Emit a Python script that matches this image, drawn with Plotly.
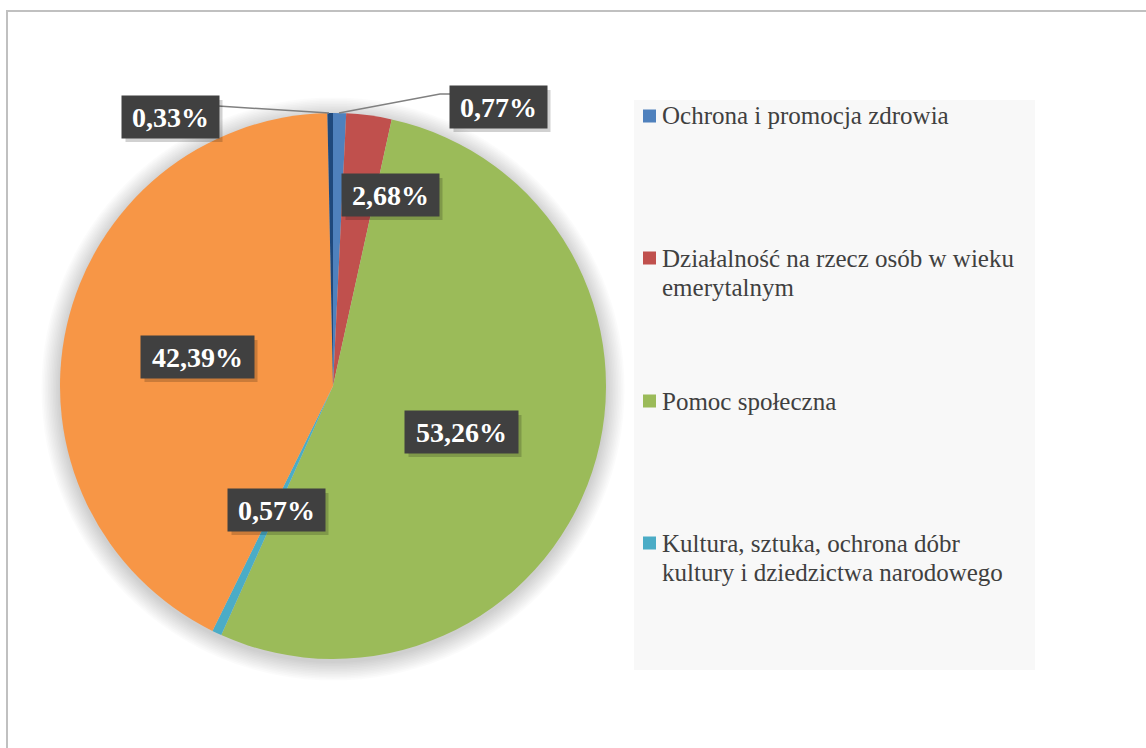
import plotly.graph_objects as go

# ---- data ----
categories = [
    "Ochrona i promocja zdrowia",
    "Działalność na rzecz osób w wieku emerytalnym",
    "Pomoc społeczna",
    "Kultura, sztuka, ochrona dóbr kultury i dziedzictwa narodowego",
    "Pozostała kategoria 5",
    "Pozostała kategoria 6",
]
values = [0.77, 2.68, 53.26, 0.57, 42.39, 0.33]
colors = ["#4F81BD", "#C0504D", "#9BBB59", "#4BACC6", "#F79646", "#1F497D"]

# legend shows only the first four entries (as in the source), with wrapped lines
legend_lines = [
    ["Ochrona i promocja zdrowia"],
    ["Działalność na rzecz osób w wieku", "emerytalnym"],
    ["Pomoc społeczna"],
    ["Kultura, sztuka, ochrona dóbr", "kultury i dziedzictwa narodowego"],
]

W, H = 1146, 748


def px(x):
    return x / W


def py(y):
    return 1 - y / H


fig = go.Figure()
fig.add_trace(go.Pie(
    labels=categories,
    values=values,
    marker=dict(colors=colors, line=dict(width=0)),
    sort=False,
    direction="clockwise",
    rotation=0,
    textinfo="none",
    showlegend=False,
    hoverinfo="label+percent",
    domain=dict(x=[px(60), px(606)], y=[py(659), py(113)]),
))

shapes = []
# chart outer border
shapes.append(dict(type="rect", xref="paper", yref="paper",
                   x0=px(7), y0=py(11), x1=px(1160), y1=py(760),
                   line=dict(color="#C0C0C0", width=2), fillcolor="rgba(0,0,0,0)", layer="below"))
# legend background
shapes.append(dict(type="rect", xref="paper", yref="paper",
                   x0=px(634), y0=py(100), x1=px(1035), y1=py(670),
                   line=dict(width=0), fillcolor="#F8F8F8", layer="below"))
# soft pie shadow
cx, cy, r = 333, 389, 273
for i in range(12):
    rr = r + 1 + i * 1.6
    shapes.append(dict(type="circle", xref="paper", yref="paper",
                       x0=px(cx - rr), x1=px(cx + rr), y0=py(cy + rr), y1=py(cy - rr),
                       line=dict(width=0), fillcolor="rgba(0,0,0,0.016)", layer="below"))
# leader lines
shapes.append(dict(type="path", xref="paper", yref="paper",
                   path=f"M {px(218)},{py(106)} L {px(329)},{py(113)}",
                   line=dict(color="#808080", width=1.5)))
shapes.append(dict(type="path", xref="paper", yref="paper",
                   path=f"M {px(339)},{py(113)} L {px(440)},{py(94)} L {px(450)},{py(94)}",
                   line=dict(color="#808080", width=1.5)))

annotations = []
# legend markers + text
legend_y = [116, 258, 401, 543]
line_gap = 29
for i, lines in enumerate(legend_lines):
    y0 = legend_y[i]
    shapes.append(dict(type="rect", xref="paper", yref="paper",
                       x0=px(643), x1=px(656), y0=py(y0 + 6.5), y1=py(y0 - 6.5),
                       line=dict(width=0), fillcolor=colors[i]))
    for j, t in enumerate(lines):
        annotations.append(dict(
            xref="paper", yref="paper", x=px(660), y=py(y0 + j * line_gap),
            xanchor="left", yanchor="middle", text=t, showarrow=False,
            font=dict(family="Liberation Serif", size=25, color="#404040"),
        ))

# data labels
label_pos = [(498, 107), (390, 195), (461, 432), (276, 510), (197, 357), (170, 117)]
for i, v in enumerate(values):
    txt = f"{v:.2f}".replace(".", ",") + "%"
    x, y = label_pos[i]
    wdt = 89 if len(txt) == 5 else 105
    bw, bh = wdt + 8, 42
    # shadow
    shapes.append(dict(type="rect", xref="paper", yref="paper",
                       x0=px(x - bw / 2 + 4), x1=px(x + bw / 2 + 4),
                       y0=py(y + bh / 2 + 4), y1=py(y - bh / 2 + 4),
                       line=dict(width=0), fillcolor="rgba(0,0,0,0.18)"))
    annotations.append(dict(
        xref="paper", yref="paper", x=px(x), y=py(y),
        xanchor="center", yanchor="middle", text=f"<b>{txt}</b>", showarrow=False,
        width=wdt, height=34, borderpad=4, bgcolor="#404040",
        font=dict(family="Liberation Serif", size=28, color="#FFFFFF"),
    ))

fig.update_layout(
    width=W, height=H,
    margin=dict(l=0, r=0, t=0, b=0),
    paper_bgcolor="#FFFFFF",
    plot_bgcolor="#FFFFFF",
    shapes=shapes,
    annotations=annotations,
    showlegend=False,
)

fig.write_html(
    "out.html",
    config={"displayModeBar": False},
    post_script="document.body.style.margin='0';document.body.style.overflow='hidden';",
)
